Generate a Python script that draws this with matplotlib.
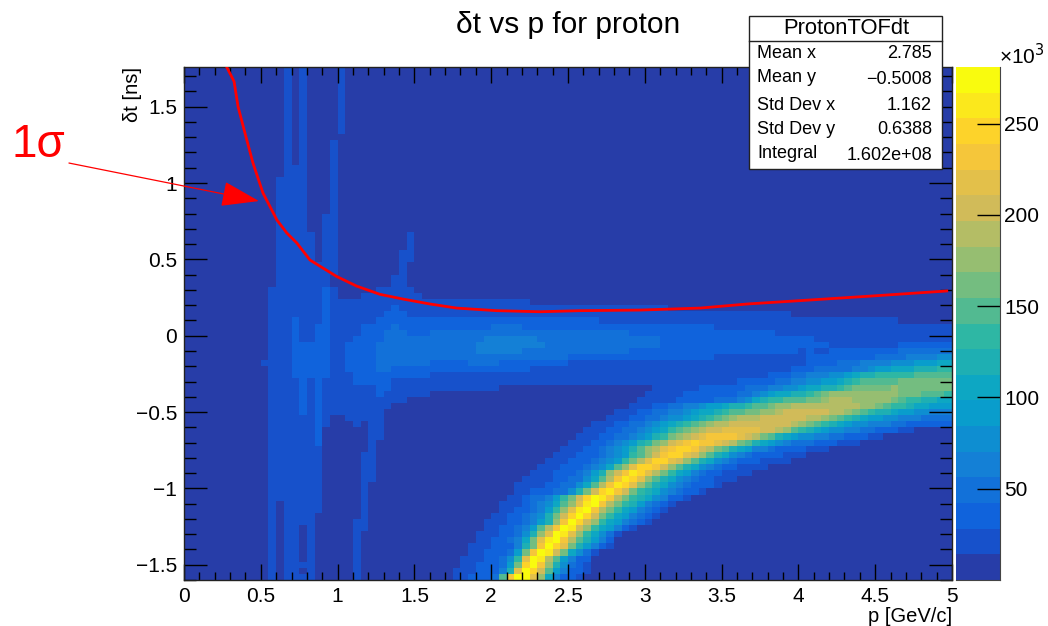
import numpy as np
import matplotlib
matplotlib.use("Agg")
import matplotlib.pyplot as plt
from matplotlib.colors import LinearSegmentedColormap, BoundaryNorm
from matplotlib.patches import Rectangle

plt.rcParams['font.family'] = ['Liberation Sans', 'DejaVu Sans']

# histogram contents, one string per row from the top (1.76 ns)
# each token is a colour level 0-9,a-j, optionally "*count"; rows are padded with 0 to 100 bins
rows_top = [
    "0*13 1 0 1 0*4 1",
    *["0*13 1 0 1 0*4 1"] * 10,
    "0*13 1 0 1",
    *["0*13 1 0 1 0*3 1"] * 4,
    *["0*13 1 1 1 0*3 1"] * 2,
    *["0*12 1*4 0*3 1"] * 6,
    *["0*12 1*4 0*2 1*2"] * 3,
    *["0*12 1*5 0 1*2 0*9 1"] * 3,
    *["0*12 1*5 0 1*2 0*8 1*2"] * 2,
    *["0*12 1*8 0*8 1"] * 2,
    *["0*12 1*7 0*8 1*2"] * 2,
    "0*11 1*7 2 1 0*5 1*5",
    "0*11 1*7 2 1 0*3 1*8",
]
rows_band = [
    "0*11 1*7 2 1*26",
    "0*11 1*7 2 1*8 2 1*35",
    "0*11 1*7 2 1*7 2*3 1*50",
    "0*11 1*3 2 1*3 2 1*6 2*29 1*39",
    "0*11 1*3 2 1*2 2*2 1*4 2*4 3 2*12 3*4 2*25 1*31",
    "0*11 1*3 2 1*2 2*2 1*4 2*3 3*3 2*3 3*26 2*19 1*23",
    "0*11 1*3 2 1*2 2*2 1*3 2*4 3*13 4*7 3*16 2*20 1*18",
    "0*11 1*3 2*5 1*2 2*4 3*13 4*9 3*15 2*22 1*9 2*7",
    "0*11 1*3 2*5 1*2 2*4 3*13 4*6 3*14 2*22 1 2 1*2 2*9 3*7",
    "0*11 1*3 2*5 1*2 2*4 3*25 2*19 1*12 2*9 3*4 4*4 5*2",
    "0*10 1*4 2*5 1*2 2*4 3*7 2*5 3*4 2*9 1*31 2*4 3*3 4*4 5*3 6*3 7*2",
    "0*11 1*3 2*5 1*2 2*4 3*2 2*18 1*34 2*3 3*5 4*2 5 6*2 7*3 8*3 9*2",
    "0*11 1*3 2*5 1*3 2*10 1*44 2*3 3*2 4*3 5*2 6 7 8*2 9*5 a*5",
    "0*11 1*4 2 1 2 1*4 2*5 1*45 2*5 3*2 4*2 5*2 6*2 7 8 9 a*5 b*7",
    "0*11 1*4 2 1 2 1*7 2*2 1*14 0*20 1*6 2*6 3*3 4*2 5*2 6 7*2 8*2 9 a b*5 c b*7",
    "0*11 1*4 2 1 2 1*7 2 1*6 0*28 1*5 2*7 3*2 4 5 6 7*2 8*2 9 a b c*9 b*3 a*3 9",
    "0*11 1*4 2 1 2 1*11 0*30 1*5 2*5 3*3 4 5 7 8 9*2 a*3 b*2 c d*3 c*5 b a 9*2 8*2 7*2",
    "0*11 1*4 2 1 2 1*9 0*31 1*3 2*2 3*2 4*2 5 6*2 7 8*2 9 a*2 b c*2 d*9 c*2 b a 9*2 8 7*2 6*3",
    "0*11 1*4 2 1 2 1*8 0*30 1*3 2*2 3*2 4*2 5 6 7*2 8 9 a*2 b*2 c*2 d e*6 d*2 c b a 9 8*2 7 6*2 5*2 4*3",
    "0*11 1*6 2 1 0*2 1*5 0*29 1*3 2*2 3*2 4 5*2 6 7 8 9 a b c d*3 e*6 d*2 c b a 9 8 7 6*2 5*2 4*3 3*4",
]
rows_ridge = [
    "0*11 1*6 2 1 0*3 1 0 1*2 0*27 1*3 2*2 3*2 4 5 6 7 8 9 a b c d*2 e*8 d c b a 9 8 7 6 5*2 4*3 3*2 2*6",
    "0*11 1*6 2 0*6 1*2 0*26 1*3 2*2 3*2 4 5 6 7 9 a b c d e*2 f*5 e*2 d c a 9 8 7 6 5*2 4*2 3*2 2*3 1*2",
    "0*11 1*6 2 0*6 1*2 0*25 1*3 2*2 3*2 4 5 6 8 9 b c d e f g*4 f e d b a 8 7 6 5*2 4*2 3*2 2*3 1*2",
    "0*11 1*6 2 0*6 1 0*25 1*3 2*2 3 4 5 6 8 9 b c e f g h g*2 f e d b a 8 7 6 5 4 3*3 2*3 1*3",
    "0*11 1*7 0*6 1 0*24 1*3 2*2 3 4 5 6 8 a c d f g h*2 g e d b a 8 7 6 4*2 3 2*4 1*3",
    "0*11 1*7 0*5 1*2 0*23 1*3 2*3 3 4 5 6 9 a c e g h*2 f e c a 8 7 5 4 3 2*4 1*3",
    "0*11 1*7 0*5 1*2 0*22 1*3 2*3 3 4 5 6 9 b d f h*2 f e c a 8 7 5 4 3 2*3 1*4",
    "0*11 1*7 0*5 1*2 0*21 1*3 2*3 3 4 5 7 a c f h*2 g e c a 8 7 5 4 3 2*2 1*4",
    "0*11 1*7 0*5 1*2 0*20 1*3 2*3 3 4 6 8 c e g i h f d b 9 7 6 4 3 2*2 1*4",
    "0*11 1*7 0*5 1*2 0*19 1*4 2*2 3*2 5 7 a d g i h f c a 8 7 5 4 3 2*2 1*3",
    "0*11 1*7 0*5 1 0*19 1*4 2*2 3*2 5 7 a d g i h f c a 8 7 5 4 3 2*3 1",
    "0*11 1*7 0*5 1 0*19 1*2 2*3 3*2 5 8 b e h i g e b 9 8 7 5 4 3 2*2 1",
    "0*11 1*7 0*5 1 0*18 1*2 2 3*2 4 6 9 b e h j i g d b 9 8 7 5 4 2*2 1",
    "0*11 1 0 1*5 0*5 1 0*17 1*3 2 3 4 5 7 a c f i j g d b 9 8 6 4 3 2 1",
    "0*11 1 0 1*5 0*5 1 0*17 1*2 2*2 3 4 6 9 c f i j g d b 9 7 6 4 3 2 1",
    "0*11 1 0 1*4 0*6 1 0*16 1*2 2*2 3 4 5 8 b e h j h e b 9 7 6 4 3 2 1",
    "0*11 1 0 1*4 0*5 1*2 0*15 1*3 2*2 3 4 6 8 c g j h e c 9 7 6 4 3 2 1",
    "0*11 1 0 1*2 0 1 0*5 1*2 0*15 1*2 2*2 3 4 6 a d g j i e c 9 7 6 4 2 1",
    "0*11 1 0 1*2 0 1 0*5 1 0*15 1*3 2*2 3 5 8 c f j i f c 9 7 5 3 1",
    "0*11 1 0 1*2 0 1 0*5 1 0*15 1*2 2*2 3 4 7 b f i j g d a 8 6 4 2",
    "0*11 1 0 1*2 0 1 0*5 1 0*14 1*3 2*3 4 8 b g j h f b 8 6 4 2 1",
    "0*11 1 0 1*2 0 1 0*5 1 0*14 1*2 2*3 3 6 b g j i e b 7 5 3 1",
    "0*11 1 0 1*2 0 1 0*5 1 0*13 1*3 2*2 3 5 9 f j i d a 6 4 2*2",
    "0*11 1 0 1*4 0*5 1 0*13 1*2 2*3 3 6 b h j g c 8 5 3 2 1",
    "0*11 1 0 1*2 0 1 0*5 1 0*12 1*3 2*3 4 8 f j h e a 6 4 2*2 1",
    "0*11 1 0 1*4 0*5 1 0*12 1*2 2*3 3 a g j*2 f c 7 4 2*2 1",
]

# the 1 sigma curve
curve_p = [0.278, 0.326, 0.352, 0.397, 0.449, 0.514, 0.605, 0.669, 0.734, 0.82, 0.905, 0.994, 1.124,
           1.276, 1.426, 1.60, 1.775, 2.036, 2.318, 2.578, 2.97, 3.36, 3.67, 4.03, 4.477, 4.966]
curve_dt = [1.76, 1.665, 1.50, 1.327, 1.131, 0.935, 0.758, 0.673, 0.608, 0.496, 0.443, 0.388, 0.325,
            0.271, 0.24, 0.208, 0.181, 0.164, 0.157, 0.164, 0.168, 0.181, 0.208, 0.231, 0.26, 0.293]

stat_names = ["Mean x", "Mean y", "Std Dev x", "Std Dev y", "Integral"]
stat_values = ["2.785", "\u22120.5008", "1.162", "0.6388", "1.602e+08"]

x_ticks = [0, 0.5, 1, 1.5, 2, 2.5, 3, 3.5, 4, 4.5, 5]
x_labels = ["0", "0.5", "1", "1.5", "2", "2.5", "3", "3.5", "4", "4.5", "5"]
y_ticks = [-1.5, -1, -0.5, 0, 0.5, 1, 1.5]
y_labels = ["\u22121.5", "\u22121", "\u22120.5", "0", "0.5", "1", "1.5"]
z_ticks = [50, 100, 150, 200, 250]
z_max = 281

# ROOT kBird palette stops
bird_red = [0.2082, 0.0592, 0.0780, 0.0232, 0.1802, 0.5301, 0.8186, 0.9956, 0.9764]
bird_green = [0.1664, 0.3599, 0.5041, 0.6419, 0.7178, 0.7492, 0.7328, 0.7862, 0.9832]
bird_blue = [0.5293, 0.8684, 0.8385, 0.7914, 0.6425, 0.4662, 0.3499, 0.1968, 0.0539]

W, H = 1048, 626


def expand_row(row):
    cells = []
    for token in row.split():
        level, _, count = token.partition("*")
        cells += [int(level, 20)] * (int(count) if count else 1)
    cells += [0] * (100 - len(cells))
    return cells[:100]


def fig_xy(px, py):
    return px / W, 1 - py / H


grid = np.array([expand_row(r) for r in rows_top + rows_band + rows_ridge])

bird = LinearSegmentedColormap.from_list("bird", list(zip(bird_red, bird_green, bird_blue)), N=255)
palette = [bird((i + 0.99) / 20) for i in range(20)]
cmap = LinearSegmentedColormap.from_list("levels", palette, N=20)
edges = np.linspace(0, z_max, 21)
norm = BoundaryNorm(edges, 20)

fig = plt.figure(figsize=(W / 100, H / 100), dpi=100)
ax = fig.add_axes([184 / W, 1 - 580 / H, 768 / W, 513 / H])

x_edges = np.linspace(0, 5, 101)
y_edges = np.linspace(1.76, -1.6, grid.shape[0] + 1)
z = (grid + 0.5) * z_max / 20
ax.pcolormesh(x_edges, y_edges, z, cmap=cmap, norm=norm, rasterized=True)
ax.set_xlim(0, 5)
ax.set_ylim(-1.6, 1.76)

ax.plot(curve_p, curve_dt, color="red", lw=2.0, zorder=3)

ax.set_xticks(x_ticks, x_labels)
ax.set_yticks(y_ticks, y_labels)
ax.set_xticks(np.arange(0, 5.01, 0.1), minor=True)
ax.set_yticks(np.arange(-1.6, 1.76, 0.1), minor=True)
ax.tick_params(axis="x", which="major", direction="in", length=11.5, width=1, top=True, labelsize=15, pad=5)
ax.tick_params(axis="x", which="minor", direction="in", length=6, width=1, top=True)
ax.tick_params(axis="y", which="major", direction="in", length=16.5, width=1, right=True, labelsize=15, pad=5)
ax.tick_params(axis="y", which="minor", direction="in", length=8.5, width=1, right=True)
for s in ax.spines.values():
    s.set_linewidth(1)
    s.set_color("#222222")

ax.set_xlabel("p [GeV/c]", loc="right", fontsize=14.5, labelpad=0.5)
ax.set_ylabel("\u03b4t [ns]", loc="top", fontsize=14.5, labelpad=-4.5)

x, y = fig_xy(568, 25)
fig.text(x, y, "\u03b4t vs p for proton", fontsize=21.5, ha="center", va="center")

# annotation drawn over everything
ax.annotate("", xy=(0.488, 0.882), xytext=(-0.749, 1.131), annotation_clip=False, zorder=5,
            arrowprops=dict(arrowstyle="-|>,head_length=24,head_width=8", mutation_scale=1,
                            color="red", lw=0.9, shrinkA=0, shrinkB=0))
x, y = fig_xy(38, 145)
fig.text(x, y, "1\u03c3", fontsize=33, color="red", ha="center", va="center")

# colour scale
cax = fig.add_axes([955.5 / W, 1 - 580 / H, 44.5 / W, 513 / H])
cax.pcolormesh([0, 1], edges, ((edges[:-1] + edges[1:]) / 2).reshape(-1, 1), cmap=cmap, norm=norm)
cax.set_xticks([])
cax.set_ylim(0, z_max)
cax.yaxis.tick_right()
cax.set_yticks(z_ticks)
cax.tick_params(axis="y", direction="in", length=16.5, width=1, labelsize=15, pad=3)
cax.spines["top"].set_visible(False)
cax.spines["left"].set_visible(False)
for side in ["right", "bottom"]:
    cax.spines[side].set_color("#444444")
x, y = fig_xy(999, 68)
fig.text(x, y, "\u00d710$^{3}$", fontsize=15, ha="left", va="bottom", math_fontfamily="custom")

# stats box
x0, y1 = fig_xy(749, 169)
x1, y0 = fig_xy(941.5, 16)
fig.add_artist(Rectangle((x0, y1), x1 - x0, y0 - y1, transform=fig.transFigure,
                         facecolor="white", edgecolor="#222222", lw=1, zorder=10))
hy = 1 - 41 / H
fig.add_artist(plt.Line2D([x0, x1], [hy, hy], transform=fig.transFigure, color="#222222", lw=1, zorder=11))
x, y = fig_xy(846, 28)
fig.text(x, y, "ProtonTOFdt", fontsize=15.8, ha="center", va="center", zorder=12)
name_y = [54, 77, 105, 130, 154]
value_y = [54, 80, 105, 130, 156]
for name, value, ny, vy in zip(stat_names, stat_values, name_y, value_y):
    x, y = fig_xy(757, ny)
    fig.text(x, y, name, fontsize=13, ha="left", va="center", zorder=12)
    x, y = fig_xy(932, vy)
    fig.text(x, y, value, fontsize=13, ha="right", va="center", zorder=12)

fig.savefig("out.png", dpi=100)
